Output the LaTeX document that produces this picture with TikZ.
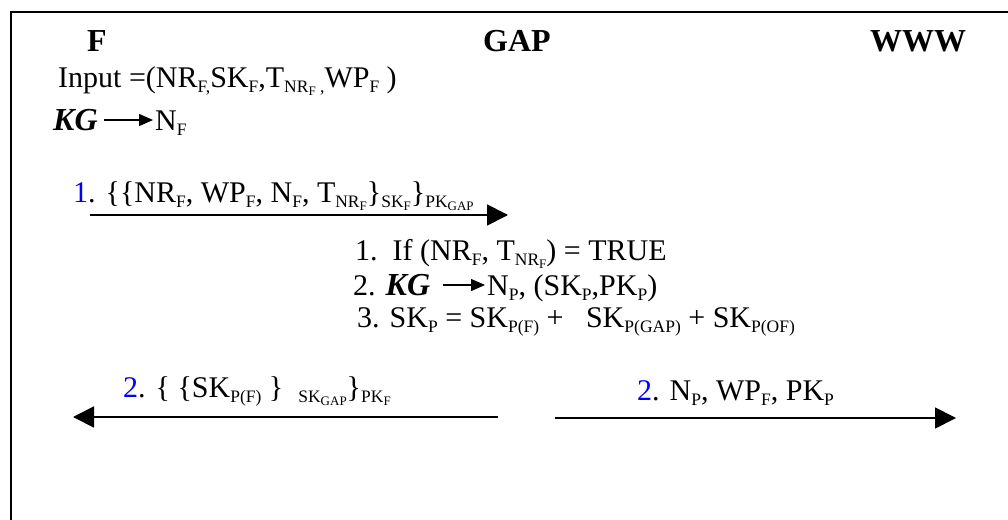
\documentclass[tikz,border=0pt]{standalone}
\usepackage{fontspec}
\setmainfont{Liberation Serif}
\usetikzlibrary{arrows.meta}
\definecolor{stepblue}{RGB}{0,0,255}
% lowered indices, first and second level
\newcommand\lo[1]{\raisebox{-0.18em}{\fontsize{17.5}{17.5}\selectfont #1}}
\newcommand\loo[1]{\raisebox{-0.15em}{\fontsize{13}{13}\selectfont #1}}
\newcommand\nb[1]{\textcolor{stepblue}{#1}}
\newcommand\kgfont{\fontsize{32}{36}\selectfont\bfseries\itshape}
\tikzset{
  txt/.style={anchor=base west, inner sep=0pt, font=\fontsize{30}{33}\selectfont},
  head/.style={anchor=base, inner sep=0pt, font=\fontsize{32}{36}\selectfont\bfseries},
  kgbox/.style={anchor=base west, inner sep=0pt, font=\kgfont},
  msg/.style={line width=1.8pt, -{Triangle[length=21pt,width=21pt]}},
  gen/.style={line width=1.4pt, -{Triangle[length=14pt,width=12pt]}},
  frame/.style={line width=1.8pt}
}
\begin{document}
\begin{tikzpicture}[x=1pt,y=-1pt]
\useasboundingbox (0,0) rectangle (1008,519);
\clip (0,0) rectangle (1008,519);

% open frame: top and left edges
\coordinate (ftr) at (1012,12);
\coordinate (ftl) at (11,12);
\coordinate (fbl) at (11,523);
\draw[frame] (ftr) -- (ftl) -- (fbl);

% parties
\node[head] (pF)   at (97,52)  {F};
\node[head] (pGAP) at (517,52) {GAP};
\node[head] (pWWW) at (918,52) {WWW};

% F: input and nonce generation
\node[txt] (input) at (58,87)
  {Input =(NR\lo{F,}SK\lo{F},T\lo{NR\loo{F} ,}WP\lo{F} )};
\node[kgbox] (kgF) at (53,130) {KG};
\node[txt] (nF) at (155,130) {N\lo{F}};
\draw[gen] ([xshift=6pt,yshift=10pt]kgF.base east) -- ([xshift=-2pt,yshift=10pt]nF.base west);

% message 1: F -> GAP
\node[txt] (m1) at (73,202)
  {\nb{1}. \{\{NR\lo{F}, WP\lo{F}, N\lo{F}, T\lo{NR\loo{F}}\}\lo{SK\loo{F}}\}\lo{PK\loo{GAP}}};
\coordinate (m1s) at (90,215);
\coordinate (m1e) at (508,215);
\draw[msg] (m1s) -- (m1e);

% GAP: checks and key generation
\node[txt] (g1) at (355,260) {1.\ \ If (NR\lo{F}, T\lo{NR\loo{F}}) = TRUE};
\node[txt] (g2) at (353,295) {2. {\kgfont KG}};
\node[txt] (g2b) at (487,295) {N\lo{P}, (SK\lo{P},PK\lo{P})};
\draw[gen] ([xshift=13pt,yshift=10pt]g2.base east) -- ([xshift=-2pt,yshift=10pt]g2b.base west);
\node[txt] (g3) at (357,327)
  {3. SK\lo{P} = SK\lo{P(F)} +\ \ \ SK\lo{P(GAP)} + SK\lo{P(OF)}};

% message 2: GAP -> F and GAP -> WWW
\node[txt] (m2a) at (123,397)
  {\nb{2}. \{ \{SK\lo{P(F)} \}\ \ \lo{SK\loo{GAP}}\}\lo{PK\loo{F}}};
\coordinate (m2as) at (498,417);
\coordinate (m2ae) at (73,417);
\draw[msg] (m2as) -- (m2ae);

\node[txt] (m2b) at (637,400) {\nb{2}. N\lo{P}, WP\lo{F}, PK\lo{P}};
\coordinate (m2bs) at (555,418);
\coordinate (m2be) at (956,418);
\draw[msg] (m2bs) -- (m2be);
\end{tikzpicture}
\end{document}
